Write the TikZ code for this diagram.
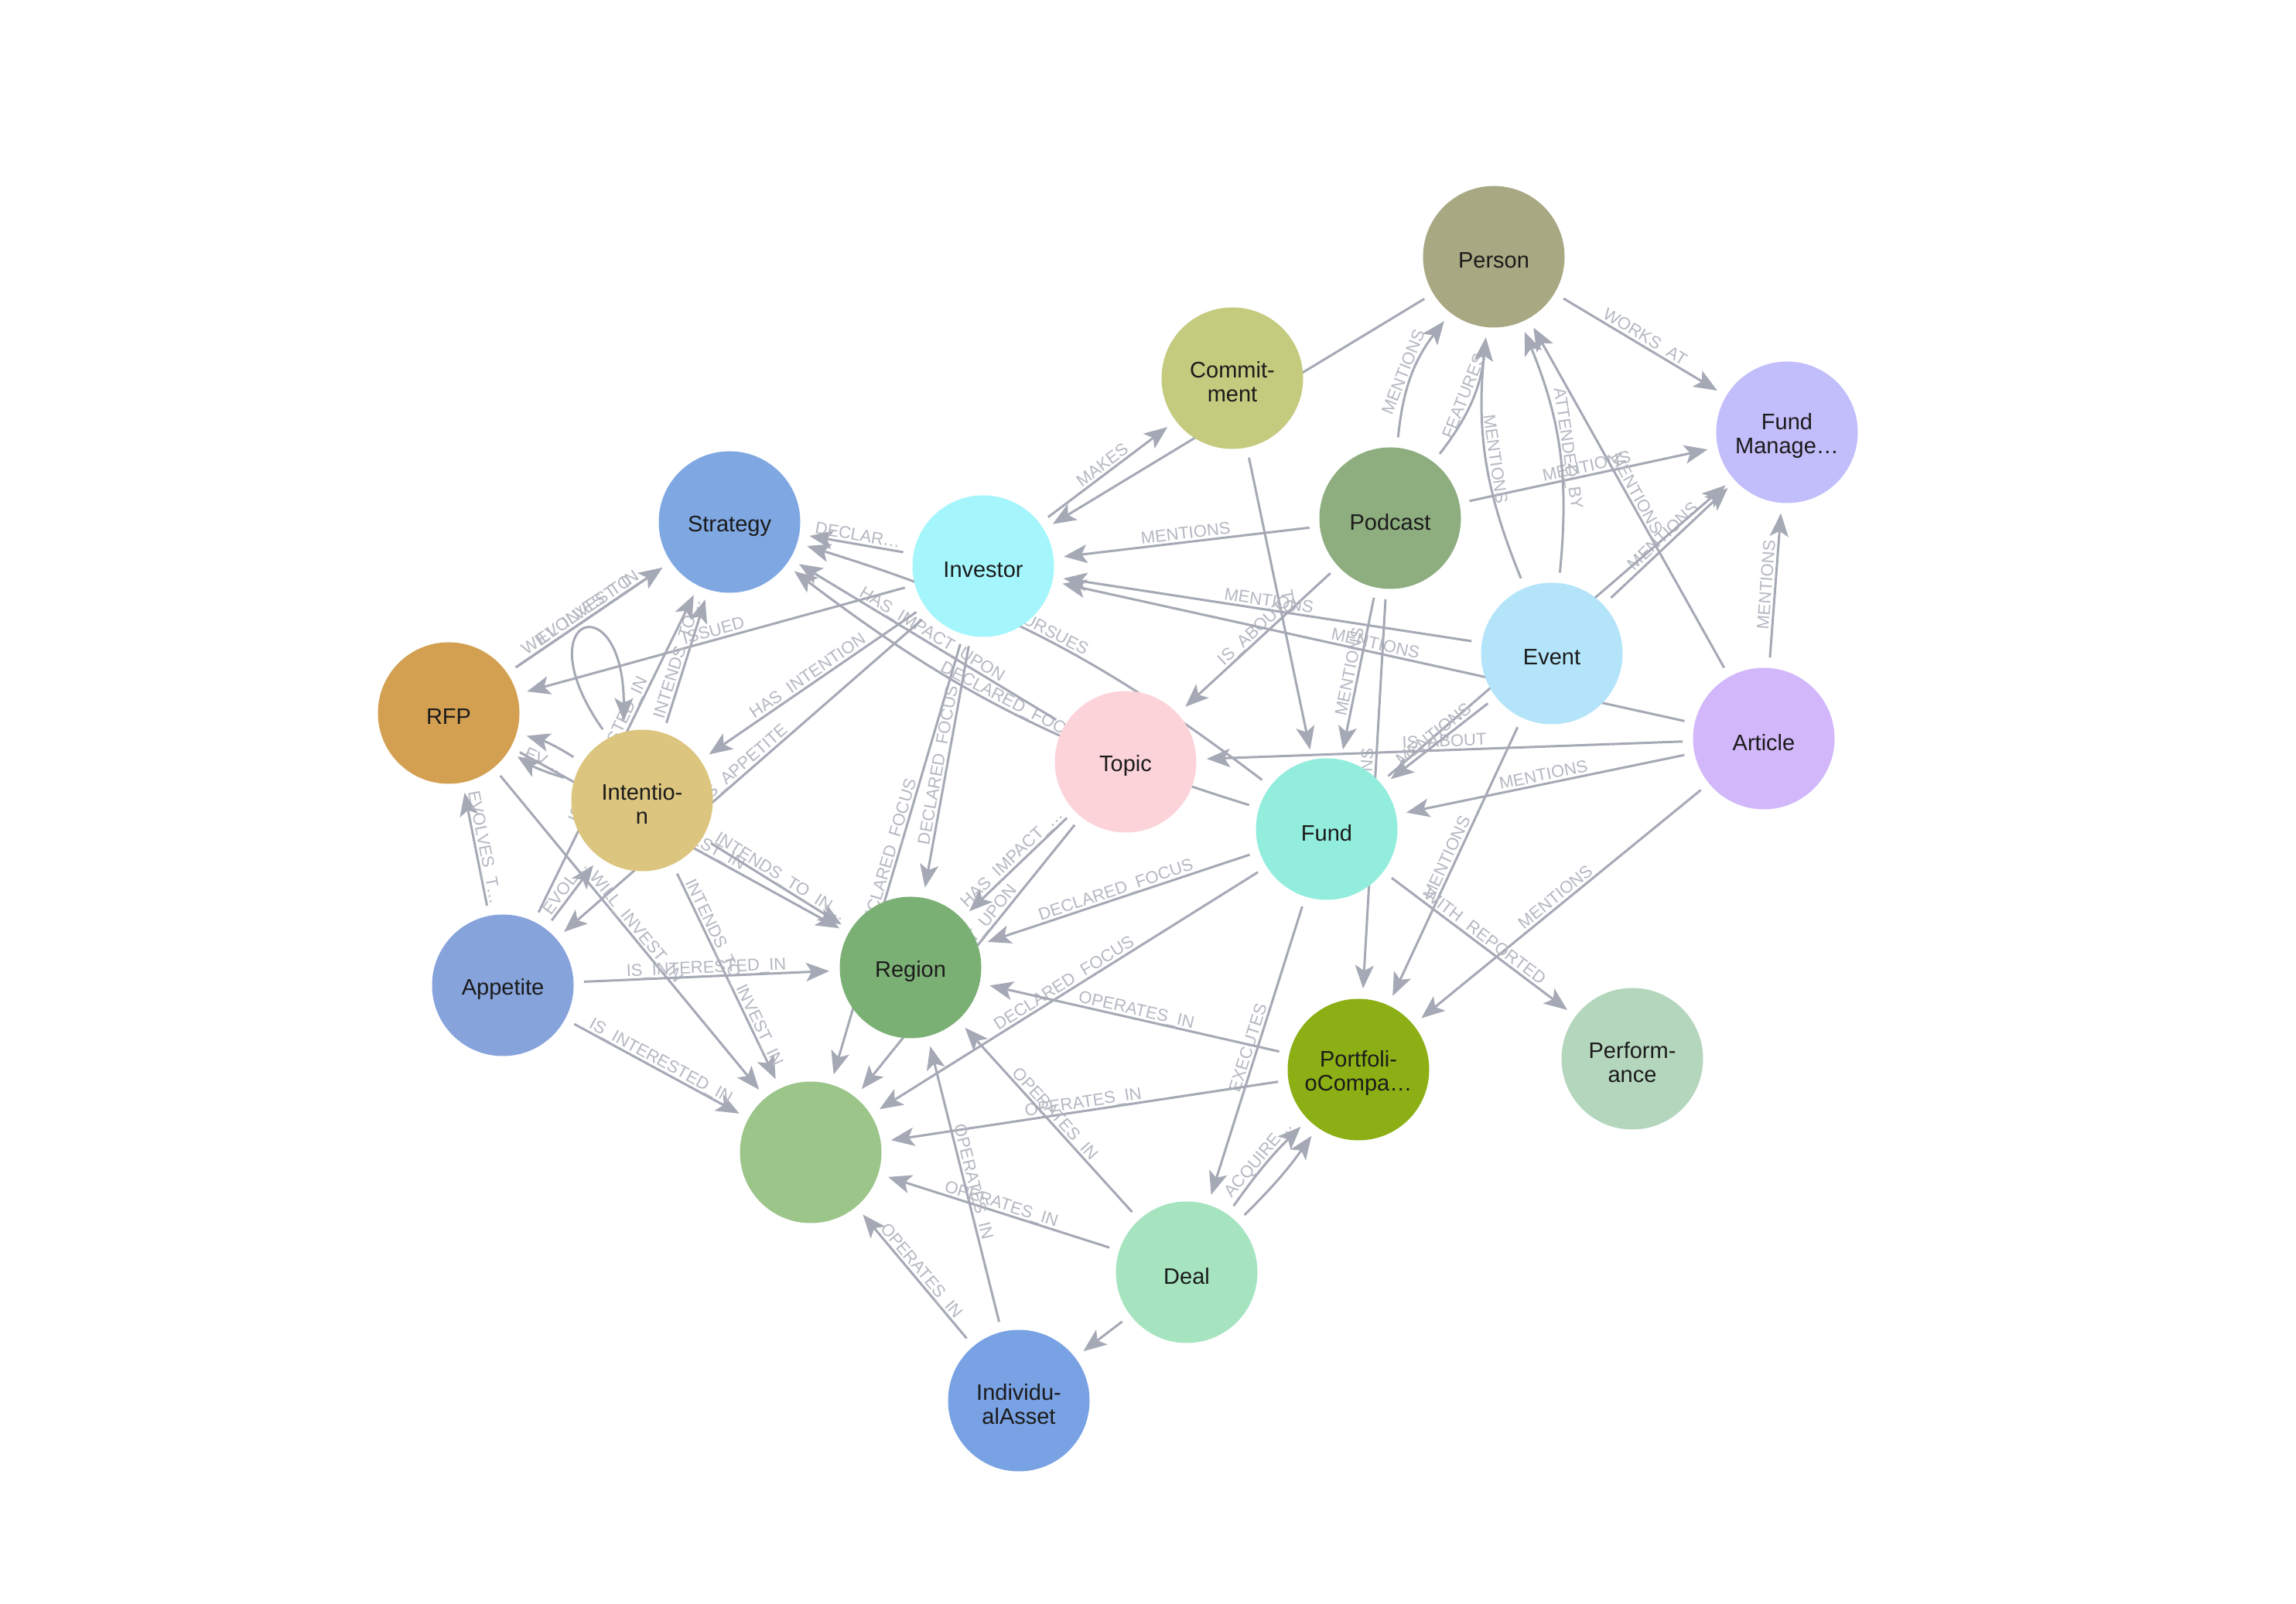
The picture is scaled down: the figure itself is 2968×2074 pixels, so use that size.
\documentclass[tikz,border=0pt]{standalone}
\usepackage{fontspec}
\setmainfont{Liberation Sans}
\usetikzlibrary{arrows.meta}
\definecolor{edgec}{HTML}{A5A9B5}
\definecolor{lblc}{HTML}{B4B8C1}
\definecolor{txtc}{HTML}{1B1B1B}
\definecolor{cper}{HTML}{A8A883}
\definecolor{ccom}{HTML}{C4CA7E}
\definecolor{cfm}{HTML}{C2BDFB}
\definecolor{cstr}{HTML}{7FA8E3}
\definecolor{cpod}{HTML}{8EAE80}
\definecolor{cinv}{HTML}{A5F6FC}
\definecolor{cev}{HTML}{B3E4F9}
\definecolor{crfp}{HTML}{D3A052}
\definecolor{cart}{HTML}{D2B8FB}
\definecolor{ctop}{HTML}{FDD3DA}
\definecolor{cint}{HTML}{DCC57F}
\definecolor{cfund}{HTML}{93EDDD}
\definecolor{creg}{HTML}{7BB075}
\definecolor{capp}{HTML}{86A3DC}
\definecolor{cperf}{HTML}{B4D6BD}
\definecolor{cpc}{HTML}{8BAF14}
\definecolor{cg}{HTML}{9CC58A}
\definecolor{cdeal}{HTML}{A6E4C0}
\definecolor{cia}{HTML}{79A2E4}
\tikzset{
  anc/.style={circle, minimum size=210pt, inner sep=0pt, outer sep=0pt},
  ball/.style={circle, minimum size=183pt, inner sep=0pt},
  nl/.style={text=txtc, font=\fontsize{29}{31}\selectfont, align=center, inner sep=0pt, yshift=-5pt},
  edge/.style={draw=edgec, line width=3pt, -{Stealth[length=30pt,width=24pt,inset=7pt]}},
  lbl/.style={midway, sloped, above, text=lblc, font=\fontsize{22}{24}\selectfont, inner sep=3pt, text depth=0pt},
}
\begin{document}
\begin{tikzpicture}[x=1pt,y=1pt]
\useasboundingbox[fill=white] (0,0) rectangle (2968,2074);
% anchor nodes
\node[anc] (per) at (1931,1742) {};
\node[anc] (fm) at (2310,1515) {};
\node[anc] (pod) at (1797,1404) {};
\node[anc] (com) at (1593,1585) {};
\node[anc] (str) at (943,1399) {};
\node[anc] (inv) at (1271,1342) {};
\node[anc] (rfp) at (580,1152) {};
\node[anc] (int) at (830,1039) {};
\node[anc] (app) at (650,800) {};
\node[anc] (reg) at (1177,823) {};
\node[anc] (g) at (1048,584) {};
\node[anc] (top) at (1455,1089) {};
\node[anc] (fund) at (1715,1002) {};
\node[anc] (pc) at (1756,691) {};
\node[anc] (deal) at (1534,429) {};
\node[anc] (ia) at (1317,263) {};
\node[anc] (ev) at (2006,1229) {};
\node[anc] (art) at (2280,1119) {};
\node[anc] (perf) at (2110,705) {};
% edges
\path[edge] (per) -- node[lbl]{WORKS\_AT} (fm);
\path[edge] (per) -- (inv);
\path[edge] (inv) -- node[lbl]{MAKES} (com);
\path[edge] (com) -- node[lbl]{TO} (fund);
\path[edge] (pod) -- node[lbl]{MENTIONS} (inv);
\path[edge] (pod) to[bend left=16] node[lbl]{MENTIONS} (per);
\path[edge] (pod) to[bend right=16] node[lbl]{FEATURES} (per);
\path[edge] (pod) -- node[lbl]{MENTIONS} (fm);
\path[edge] (pod) -- node[lbl]{IS\_ABOUT} (top);
\path[edge] (pod) -- node[lbl]{MENTIONS} (fund);
\path[edge] (pod) -- node[lbl]{MENTIONS} (pc);
\path[edge] (ev) -- node[lbl]{MENTIONS} (inv);
\path[edge] (art) -- node[lbl]{MENTIONS} (inv);
\path[edge] (ev) to[bend left=14] node[lbl]{MENTIONS} (per);
\path[edge] (ev) to[bend right=14] node[lbl]{ATTENDED\_BY} (per);
\path[edge] (art) -- node[lbl]{MENTIONS} (per);
\path[edge] (ev) -- node[lbl]{MENTIONS} (fm);
\path[edge] (fund) -- (fm);
\path[edge] (art) -- node[lbl]{MENTIONS} (fm);
\path[edge] (art) -- node[lbl]{IS\_ABOUT} (top);
\path[edge] (art) -- node[lbl]{MENTIONS} (fund);
\path[edge] (art) -- node[lbl]{MENTIONS} (pc);
\path[edge] (ev) -- node[lbl]{MENTIONS} (pc);
\path[edge] (ev) -- node[lbl]{MENTIONS} (fund);
\path[edge] (fund) -- node[lbl]{WITH\_REPORTED} (perf);
\path[edge] (fund) to[bend right=10] node[lbl]{PURSUES} (str);
\path[edge] (fund) to[bend left=10] node[lbl]{DECLARED\_FOCUS} (str);
\path[edge] (fund) -- node[lbl]{DECLARED\_FOCUS} (reg);
\path[edge] (fund) -- node[lbl]{DECLARED\_FOCUS} (g);
\path[edge] (fund) -- node[lbl]{EXECUTES} (deal);
\path[edge] (top) -- node[lbl]{HAS\_IMPACT\_UPON} (str);
\path[edge] (top) -- node[lbl]{HAS\_IMPACT\_…} (reg);
\path[edge] (top) -- node[lbl]{HAS\_IMPACT\_UPON} (g);
\path[edge] (inv) -- node[lbl]{DECLAR…} (str);
\path[edge] (inv) -- node[lbl]{ISSUED} (rfp);
\path[edge] (inv) -- node[lbl]{HAS\_INTENTION} (int);
\path[edge] (inv) -- node[lbl]{HAS\_APPETITE} (app);
\path[edge] (inv) -- node[lbl]{DECLARED\_FOCUS} (reg);
\path[edge] (inv) -- node[lbl]{DECLARED\_FOCUS} (g);
\path[edge] (rfp) -- node[lbl]{EVOLVES\_TO} (str);
\path[edge] (rfp) -- node[lbl, xshift=-6pt]{WILL\_INVEST\_IN} (str);
\path[edge] (int) -- node[lbl]{INTENDS\_TO…} (str);
\path[edge] (app) -- node[lbl]{IS\_INTERESTED\_IN} (str);
\path[edge] (int) to[bend left=8] node[lbl]{EV…} (rfp);
\path[edge] (int) to[bend right=8] (rfp);
\path[edge] (app) -- node[lbl]{EVOLVES\_T…} (rfp);
\path[edge] (app) -- node[lbl]{EVOL…} (int);
\path[edge] (rfp) -- node[lbl]{WILL\_INVEST\_IN} (g);
\path[edge] (rfp) -- node[lbl]{WILL\_INVEST\_IN} (reg);
\path[edge] (int) -- node[lbl]{INTENDS\_TO\_IN…} (reg);
\path[edge] (int) -- node[lbl]{INTENDS\_TO\_INVEST\_IN} (g);
\path[edge] (app) -- node[lbl]{IS\_INTERESTED\_IN} (reg);
\path[edge] (app) -- node[lbl]{IS\_INTERESTED\_IN} (g);
\path[edge] (pc) -- node[lbl]{OPERATES\_IN} (reg);
\path[edge] (pc) -- node[lbl]{OPERATES\_IN} (g);
\path[edge] (deal) -- node[lbl]{OPERATES\_IN} (reg);
\path[edge] (deal) -- node[lbl]{OPERATES\_IN} (g);
\path[edge] (ia) -- node[lbl]{OPERATES\_IN} (g);
\path[edge] (ia) -- node[lbl]{OPERATES\_IN} (reg);
\path[edge] (deal) to[bend left=5] node[lbl]{ACQUIRE…} (pc);
\path[edge] (deal) to[bend right=5] (pc);
\path[edge] (deal) -- (ia);
\path[edge] (int.119) .. controls +(125:180) and +(90:180) .. (int.103);
% visible nodes
\node[ball, fill=cper, label={[nl]center:Person}] (vper) at (per) {};
\node[ball, fill=cfm, label={[nl]center:{Fund\\Manage…}}] (vfm) at (fm) {};
\node[ball, fill=cpod, label={[nl]center:Podcast}] (vpod) at (pod) {};
\node[ball, fill=ccom, label={[nl]center:{Commit-\\ment}}] (vcom) at (com) {};
\node[ball, fill=cstr, label={[nl]center:Strategy}] (vstr) at (str) {};
\node[ball, fill=cinv, label={[nl]center:Investor}] (vinv) at (inv) {};
\node[ball, fill=crfp, label={[nl]center:RFP}] (vrfp) at (rfp) {};
\node[ball, fill=cint, label={[nl]center:{Intentio-\\n}}] (vint) at (int) {};
\node[ball, fill=capp, label={[nl]center:Appetite}] (vapp) at (app) {};
\node[ball, fill=creg, label={[nl]center:Region}] (vreg) at (reg) {};
\node[ball, fill=cg] (vg) at (g) {};
\node[ball, fill=ctop, label={[nl]center:Topic}] (vtop) at (top) {};
\node[ball, fill=cfund, label={[nl]center:Fund}] (vfund) at (fund) {};
\node[ball, fill=cpc, label={[nl]center:{Portfoli-\\oCompa…}}] (vpc) at (pc) {};
\node[ball, fill=cdeal, label={[nl]center:Deal}] (vdeal) at (deal) {};
\node[ball, fill=cia, label={[nl]center:{Individu-\\alAsset}}] (via) at (ia) {};
\node[ball, fill=cev, label={[nl]center:Event}] (vev) at (ev) {};
\node[ball, fill=cart, label={[nl]center:Article}] (vart) at (art) {};
\node[ball, fill=cperf, label={[nl]center:{Perform-\\ance}}] (vperf) at (perf) {};
\end{tikzpicture}
\end{document}
